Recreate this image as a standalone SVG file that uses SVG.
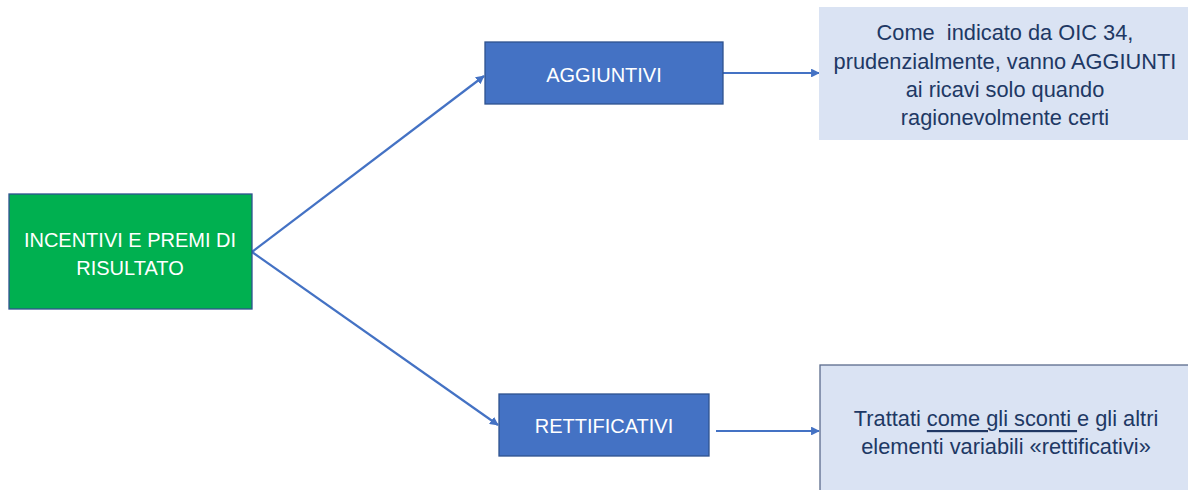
<svg xmlns="http://www.w3.org/2000/svg" width="1188" height="490" viewBox="0 0 1188 490">
  <defs>
    <marker id="arrow" viewBox="0 0 10 10" refX="9" refY="5" markerWidth="4" markerHeight="4" orient="auto" markerUnits="strokeWidth">
      <path d="M0,0 L10,5 L0,10 z" fill="#4472C4"/>
    </marker>
    <style>
      .txt { font-family: "Liberation Sans", Arial, sans-serif; text-anchor: middle; dominant-baseline: central; }
      .white { fill: #FFFFFF; font-size: 20px; }
      .dark { fill: #203864; font-size: 21.8px; }
      .blue { fill: #4472C4; stroke: #2F528F; stroke-width: 1.3; }
      .note { fill: #DAE3F3; }
      .conn { stroke: #4472C4; stroke-width: 2.2; fill: none; marker-end: url(#arrow); }
      .ul { text-decoration: underline; text-decoration-skip-ink: none; }
    </style>
  </defs>
  <rect width="1188" height="490" fill="#FFFFFF"/>

  <g id="connectors">
    <line class="conn" x1="252" y1="252" x2="484" y2="76"/>
    <line class="conn" x1="252" y1="252" x2="498" y2="425"/>
    <line class="conn" x1="723" y1="73" x2="819" y2="73"/>
    <line class="conn" x1="716" y1="431" x2="819" y2="431"/>
  </g>

  <g id="incentivi">
    <rect x="9" y="194" width="243" height="115" fill="#00B050" stroke="#2F528F" stroke-width="1.3"/>
    <text class="txt white" x="130" y="240">INCENTIVI E PREMI DI</text>
    <text class="txt white" x="130" y="268">RISULTATO</text>
  </g>

  <g id="aggiuntivi">
    <rect class="blue" x="485" y="42" width="238" height="62"/>
    <text class="txt white" x="604" y="75">AGGIUNTIVI</text>
  </g>

  <g id="rettificativi">
    <rect class="blue" x="499" y="394" width="210" height="62"/>
    <text class="txt white" x="604" y="426">RETTIFICATIVI</text>
  </g>

  <g id="nota-aggiuntivi">
    <rect class="note" x="819" y="7" width="369" height="133"/>
    <text class="txt dark" x="1005" y="32" xml:space="preserve">Come  indicato da OIC 34,</text>
    <text class="txt dark" x="1005" y="61">prudenzialmente, vanno AGGIUNTI</text>
    <text class="txt dark" x="1005" y="89">ai ricavi solo quando</text>
    <text class="txt dark" x="1005" y="117">ragionevolmente certi</text>
  </g>

  <g id="nota-rettificativi">
    <rect class="note" x="820" y="365" width="380" height="140" stroke="#5B6B8C" stroke-width="1.3"/>
    <text class="txt dark" x="1006" y="418" xml:space="preserve">Trattati <tspan class="ul">come gli sconti </tspan>e gli altri</text>
    <text class="txt dark" x="1006" y="446">elementi variabili «rettificativi»</text>
  </g>
</svg>
